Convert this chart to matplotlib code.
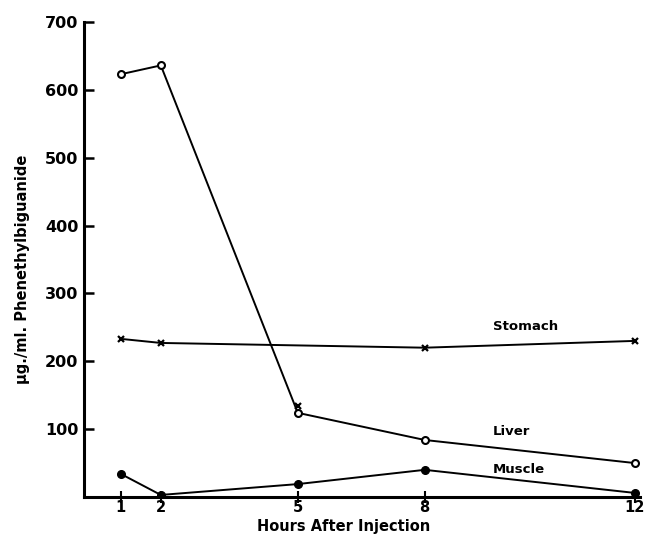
import matplotlib
matplotlib.use("Agg")
import matplotlib.pyplot as plt
import numpy as np

# ============================================
# DATA
# ============================================
hours = [1, 2, 5, 8, 12]

liver = [623, 636, 124, 84, 50]
muscle = [34, 3, 19, 40, 6]

stomach_hours = [1, 2, 8, 12]
stomach = [233, 227, 220, 230]
# lone stomach point at 5 h, not joined to the line
stomach_extra_hours = [5]
stomach_extra = [134]

label_names = ["Stomach", "Liver", "Muscle"]
label_x = [9.3, 9.3, 9.3]
label_y = [251, 97, 40]

yticks = [100, 200, 300, 400, 500, 600, 700]

# the hand-drawn x axis is not evenly spaced, so map hours -> drawn position
knot_hours = np.array([0, 1, 2, 5, 8, 12, 13])
knot_pos = np.array([81, 121, 161, 298, 425, 635, 687])


def fwd(h):
    return np.interp(h, knot_hours, knot_pos)


def inv(p):
    return np.interp(p, knot_pos, knot_hours)


# ============================================
# PLOT
# ============================================
fig = plt.figure(figsize=(6.45, 5.36), dpi=100)
ax = fig.add_axes([0.130, 0.0728, 0.862, 0.8862])

lw = 1.4
ax.plot(hours, liver, color="black", lw=lw, marker="o", markersize=5,
        markerfacecolor="white", markeredgewidth=1.5)
ax.plot(hours, muscle, color="black", lw=lw, marker="o", markersize=5.5)
ax.plot(stomach_hours, stomach, color="black", lw=lw, marker="x",
        markersize=5, markeredgewidth=1.6)
ax.plot(stomach_extra_hours, stomach_extra, ls="none", color="black",
        marker="x", markersize=5, markeredgewidth=1.6)

for name, x, y in zip(label_names, label_x, label_y):
    ax.text(x, y, name, fontsize=9.5, fontweight="bold", va="center", ha="left")

ax.set_xscale("function", functions=(fwd, inv))
ax.set_xlim(0.075, 12.1)
ax.set_ylim(0, 700)

ax.set_xticks(hours)
ax.set_xticklabels([str(h) for h in hours])
ax.set_yticks(yticks)

ax.spines["top"].set_visible(False)
ax.spines["right"].set_visible(False)
ax.spines["left"].set_linewidth(2.2)
ax.spines["bottom"].set_linewidth(2.2)

ax.tick_params(axis="y", direction="in", length=7, width=1.8, pad=4,
               labelsize=11.5)
ax.tick_params(axis="x", direction="inout", length=9, width=1.5, pad=-2,
               labelsize=10.5)
for lab in ax.get_xticklabels() + ax.get_yticklabels():
    lab.set_fontweight("bold")

ax.set_xlabel("Hours After Injection", fontsize=10.5, fontweight="bold",
              labelpad=0)
ax.xaxis.set_label_coords(0.468, -0.047)
ax.set_ylabel("\u03bcg./ml. Phenethylbiguanide", fontsize=10.5,
              fontweight="bold", labelpad=10)
ax.yaxis.set_label_coords(-0.097, 0.48)

fig.savefig("out.png", dpi=100)
